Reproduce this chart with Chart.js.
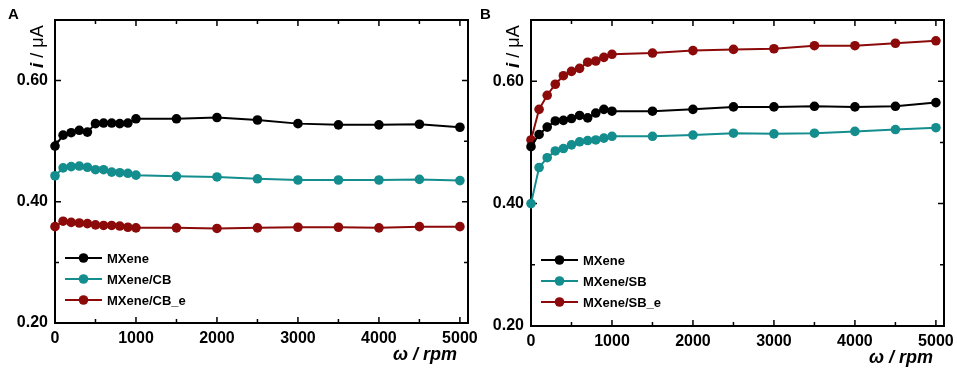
<!DOCTYPE html>
<html>
<head>
  <meta charset="utf-8">
  <title>i vs rotation rate</title>
  <script src="https://cdn.jsdelivr.net/npm/chart.js"></script>
  <style>
    body { margin: 0; background: #fff; width: 957px; height: 369px; overflow: hidden; }
    .panel { position: absolute; top: 0; }
    #panelA { left: 0; }
    #panelB { left: 478px; }
  </style>
</head>
<body>
  <canvas id="panelA" class="panel" width="478" height="369"></canvas>
  <canvas id="panelB" class="panel" width="479" height="369"></canvas>

  <script>
    // rotation rate (rpm)
    const rpm = [0, 100, 200, 300, 400, 500, 600, 700, 800, 900, 1000,
                 1500, 2000, 2500, 3000, 3500, 4000, 4500, 5000];

    // panel A
    const mxeneA   = [0.492, 0.510, 0.514, 0.518, 0.515, 0.529, 0.530, 0.530, 0.529, 0.530, 0.537,
                      0.537, 0.539, 0.535, 0.529, 0.527, 0.527, 0.528, 0.523];
    const mxeneCB  = [0.443, 0.456, 0.458, 0.459, 0.457, 0.453, 0.453, 0.449, 0.448, 0.447, 0.444,
                      0.442, 0.441, 0.438, 0.436, 0.436, 0.436, 0.437, 0.435];
    const mxeneCBe = [0.359, 0.368, 0.366, 0.365, 0.364, 0.362, 0.361, 0.361, 0.360, 0.358, 0.357,
                      0.357, 0.356, 0.357, 0.358, 0.358, 0.357, 0.359, 0.359];

    // panel B
    const mxeneB   = [0.493, 0.513, 0.525, 0.535, 0.536, 0.539, 0.544, 0.540, 0.548, 0.554, 0.551,
                      0.551, 0.554, 0.558, 0.558, 0.559, 0.558, 0.559, 0.565];
    const mxeneSB  = [0.400, 0.459, 0.475, 0.486, 0.490, 0.496, 0.501, 0.503, 0.504, 0.507, 0.510,
                      0.510, 0.512, 0.515, 0.514, 0.515, 0.518, 0.521, 0.524];
    const mxeneSBe = [0.504, 0.554, 0.577, 0.595, 0.609, 0.616, 0.621, 0.631, 0.633, 0.639, 0.644,
                      0.646, 0.650, 0.652, 0.653, 0.658, 0.658, 0.662, 0.666];

    // ticks
    const yMajor = [0.2, 0.4, 0.6];
    const yMinor = [0.3, 0.5];
    const xMajor = [0, 1000, 2000, 3000, 4000, 5000];
    const xMinor = [500, 1500, 2500, 3500, 4500];

    const BLACK = '#000000';
    const TEAL = '#138d8d';
    const RED = '#8c0a0a';
    const FONT = "'Liberation Sans', Arial, sans-serif";
    const R = 4.8;

    function series(label, values, color) {
      return {
        label: label,
        data: rpm.map((x, i) => ({ x: x, y: values[i] })),
        borderColor: color,
        backgroundColor: color,
        borderWidth: 2,
        pointRadius: R,
        pointBorderWidth: 0,
        pointHoverRadius: R,
        tension: 0,
        clip: false
      };
    }

    // frame, inward ticks, legend and texts
    const decor = {
      id: 'decor',
      beforeDatasetsDraw(chart, args, o) {
        const ctx = chart.ctx, ca = chart.chartArea;
        const xs = chart.scales.x, ys = chart.scales.y;
        ctx.save();
        ctx.strokeStyle = '#000';
        ctx.lineWidth = 2;
        ctx.strokeRect(ca.left, ca.top, ca.right - ca.left, ca.bottom - ca.top);
        ctx.lineWidth = 1.5;
        ctx.beginPath();
        const yt = (v, len) => {
          const p = ys.getPixelForValue(v);
          ctx.moveTo(ca.left, p); ctx.lineTo(ca.left + len, p);
          ctx.moveTo(ca.right, p); ctx.lineTo(ca.right - len, p);
        };
        const xt = (v, len) => {
          const p = xs.getPixelForValue(v);
          ctx.moveTo(p, ca.top); ctx.lineTo(p, ca.top + len);
          ctx.moveTo(p, ca.bottom); ctx.lineTo(p, ca.bottom - len);
        };
        yMajor.forEach(v => yt(v, 6));
        yMinor.forEach(v => yt(v, 4));
        xMajor.forEach(v => xt(v, 6));
        xMinor.forEach(v => xt(v, 4));
        ctx.stroke();
        ctx.restore();
      },
      afterDraw(chart, args, o) {
        const ctx = chart.ctx, ca = chart.chartArea;
        ctx.save();
        // legend
        chart.data.datasets.forEach((ds, i) => {
          const yy = ca.top + o.legendTop + i * 21;
          const x0 = ca.left + 10, x1 = ca.left + 47;
          ctx.strokeStyle = ds.borderColor;
          ctx.lineWidth = 2;
          ctx.beginPath(); ctx.moveTo(x0, yy); ctx.lineTo(x1, yy); ctx.stroke();
          ctx.fillStyle = ds.borderColor;
          ctx.beginPath(); ctx.arc((x0 + x1) / 2, yy, R, 0, Math.PI * 2); ctx.fill();
          ctx.fillStyle = '#000';
          ctx.font = 'bold 13px ' + FONT;
          ctx.textAlign = 'left';
          ctx.textBaseline = 'middle';
          ctx.fillText(ds.label, x1 + 5, yy + 1);
        });
        // panel letter
        ctx.fillStyle = '#000';
        ctx.font = 'bold 15px ' + FONT;
        ctx.textAlign = 'left';
        ctx.textBaseline = 'middle';
        ctx.fillText(o.letter, o.letterX, 15);
        // x title
        ctx.font = 'italic bold 18px ' + FONT;
        ctx.textAlign = 'right';
        ctx.textBaseline = 'middle';
        ctx.fillText('\u03c9 / rpm', ca.right - 11, ca.bottom + 32);
        // y title (rotated)
        ctx.translate(ca.left - 17, ca.top + 48);
        ctx.rotate(-Math.PI / 2);
        ctx.textAlign = 'left';
        ctx.textBaseline = 'middle';
        ctx.font = 'italic bold 19px ' + FONT;
        ctx.fillText('i', 0, 0);
        const w = ctx.measureText('i').width;
        ctx.font = '18px ' + FONT;
        ctx.fillText(' / \u03bcA', w, 0);
        ctx.restore();
      }
    };

    function makeChart(id, datasets, cfg) {
      return new Chart(document.getElementById(id), {
        type: 'line',
        data: { datasets: datasets },
        options: {
          responsive: false,
          animation: false,
          events: [],
          layout: { padding: { left: 0, right: cfg.right, top: 20, bottom: 0 } },
          scales: {
            x: {
              type: 'linear',
              min: 0,
              max: 5100,
              grid: { display: false, drawTicks: false },
              border: { display: false },
              afterBuildTicks: s => { s.ticks = xMajor.map(v => ({ value: v })); },
              afterFit: s => { s.height = cfg.xh; s.paddingLeft = 0; s.paddingRight = 0; },
              ticks: {
                padding: 6,
                maxRotation: 0,
                autoSkip: false,
                color: '#000',
                font: { family: FONT, size: 16, weight: 'bold' },
                callback: v => String(v)
              }
            },
            y: {
              type: 'linear',
              min: 0.2,
              max: 0.7,
              grid: { display: false, drawTicks: false },
              border: { display: false },
              afterBuildTicks: s => { s.ticks = yMajor.map(v => ({ value: v })); },
              afterFit: s => { s.width = cfg.yw; s.paddingTop = 0; s.paddingBottom = 0; },
              ticks: {
                padding: 7,
                color: '#000',
                font: { family: FONT, size: 16, weight: 'bold' },
                callback: v => v.toFixed(2)
              }
            }
          },
          plugins: {
            legend: { display: false },
            tooltip: { enabled: false },
            decor: { letter: cfg.letter, letterX: cfg.letterX, legendTop: cfg.legendTop }
          }
        },
        plugins: [decor]
      });
    }

    makeChart('panelA', [
      series('MXene', mxeneA, BLACK),
      series('MXene/CB', mxeneCB, TEAL),
      series('MXene/CB_e', mxeneCBe, RED)
    ], { right: 10, xh: 46, yw: 55, letter: 'A', letterX: 8, legendTop: 238 });

    makeChart('panelB', [
      series('MXene', mxeneB, BLACK),
      series('MXene/SB', mxeneSB, TEAL),
      series('MXene/SB_e', mxeneSBe, RED)
    ], { right: 13, xh: 43, yw: 53, letter: 'B', letterX: 2, legendTop: 240 });
  </script>
</body>
</html>
